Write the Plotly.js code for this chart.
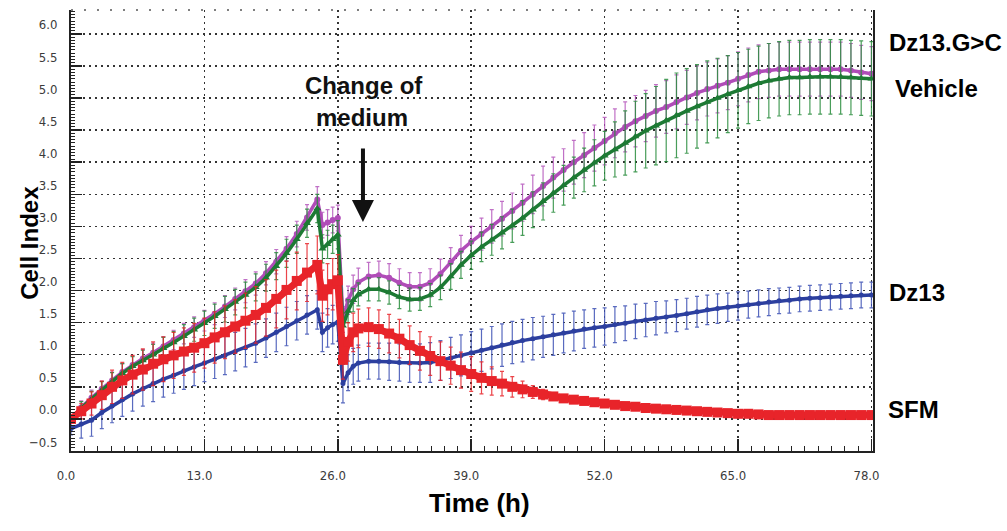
<!DOCTYPE html>
<html>
<head>
<meta charset="utf-8">
<script src="https://cdn.plot.ly/plotly-3.0.1.min.js"></script>
<style>html,body{margin:0;padding:0;background:#fff;}#chart{width:1007px;height:531px;}</style>
</head>
<body>
<div id="chart"></div>
<script>
// Time points (h)
const time = [
  0,1,2,3,4,5,6,7,8,9,
  10,11,12,13,14,15,16,17,18,19,
  20,21,22,23,24,24.5,25,25.5,26,26.5,
  27,27.5,28,29,30,31,32,33,34,35,
  36,37,38,39,40,41,42,43,44,45,
  46,47,48,49,50,51,52,53,54,55,
  56,57,58,59,60,61,62,63,64,65,
  66,67,68,69,70,71,72,73,74,75,
  76,77,78
];

// Cell index – Dz13.G>C (magenta)
const dz13gc = [
  0.00,0.18,0.33,0.47,0.60,0.73,0.84,0.94,1.03,1.13,
  1.23,1.33,1.43,1.53,1.64,1.75,1.87,1.99,2.11,2.27,
  2.45,2.65,2.88,3.14,3.42,3.02,3.06,3.10,3.13,1.55,
  1.85,2.02,2.13,2.22,2.24,2.20,2.12,2.06,2.06,2.12,
  2.26,2.44,2.62,2.76,2.88,3.00,3.12,3.24,3.37,3.50,
  3.63,3.76,3.88,4.00,4.11,4.22,4.33,4.45,4.55,4.64,
  4.72,4.80,4.86,4.94,5.01,5.08,5.14,5.19,5.24,5.30,
  5.36,5.41,5.43,5.45,5.45,5.45,5.45,5.45,5.45,5.45,
  5.43,5.40,5.38
];
const dz13gcErr = [
  0.05,0.10,0.12,0.12,0.13,0.13,0.14,0.14,0.15,0.15,
  0.15,0.16,0.16,0.16,0.17,0.17,0.17,0.18,0.18,0.18,
  0.19,0.19,0.20,0.20,0.20,0.20,0.20,0.20,0.20,0.20,
  0.22,0.22,0.22,0.22,0.22,0.22,0.22,0.22,0.22,0.22,
  0.23,0.23,0.24,0.24,0.25,0.26,0.27,0.28,0.29,0.30,
  0.31,0.32,0.33,0.34,0.35,0.36,0.37,0.38,0.39,0.40,
  0.40,0.41,0.41,0.42,0.42,0.42,0.42,0.42,0.42,0.42,
  0.42,0.42,0.42,0.42,0.42,0.42,0.42,0.42,0.42,0.42,
  0.42,0.42,0.42
];

// Cell index – Vehicle (green)
const vehicle = [
  0.00,0.17,0.31,0.45,0.58,0.71,0.82,0.91,1.00,1.10,
  1.19,1.29,1.39,1.49,1.60,1.71,1.82,1.93,2.05,2.20,
  2.38,2.58,2.80,3.05,3.28,2.65,2.72,2.80,2.87,1.45,
  1.68,1.85,1.94,2.02,2.02,1.97,1.90,1.86,1.87,1.93,
  2.05,2.22,2.40,2.55,2.68,2.79,2.90,3.01,3.13,3.26,
  3.39,3.52,3.64,3.76,3.88,3.99,4.10,4.20,4.30,4.40,
  4.49,4.57,4.65,4.73,4.80,4.87,4.94,5.00,5.06,5.12,
  5.18,5.23,5.27,5.30,5.32,5.32,5.33,5.33,5.33,5.33,
  5.32,5.31,5.30
];
const vehicleErr = [
  0.05,0.10,0.12,0.13,0.14,0.15,0.15,0.16,0.16,0.17,
  0.17,0.18,0.18,0.19,0.19,0.20,0.20,0.20,0.21,0.21,
  0.21,0.22,0.22,0.22,0.22,0.22,0.22,0.22,0.22,0.20,
  0.18,0.18,0.18,0.18,0.18,0.18,0.18,0.18,0.18,0.18,
  0.19,0.20,0.21,0.22,0.23,0.24,0.25,0.26,0.27,0.28,
  0.29,0.30,0.31,0.32,0.34,0.36,0.38,0.43,0.50,0.55,
  0.58,0.61,0.64,0.66,0.66,0.65,0.64,0.62,0.60,0.59,
  0.58,0.58,0.58,0.58,0.58,0.58,0.58,0.58,0.58,0.58,
  0.58,0.58,0.58
];

// Cell index – Dz13 (blue)
const dz13 = [
  -0.15,-0.08,-0.02,0.10,0.20,0.30,0.39,0.47,0.55,0.62,
  0.68,0.75,0.81,0.87,0.93,0.99,1.05,1.11,1.18,1.26,
  1.35,1.44,1.53,1.62,1.70,1.35,1.42,1.47,1.51,0.55,
  0.72,0.82,0.87,0.90,0.90,0.89,0.88,0.87,0.87,0.88,
  0.91,0.95,0.99,1.03,1.07,1.11,1.15,1.19,1.22,1.25,
  1.28,1.31,1.34,1.37,1.40,1.42,1.44,1.47,1.49,1.52,
  1.54,1.57,1.59,1.61,1.64,1.67,1.70,1.72,1.74,1.76,
  1.78,1.80,1.82,1.84,1.85,1.87,1.88,1.89,1.90,1.91,
  1.92,1.93,1.93
];
const dz13Err = [
  0.10,0.22,0.25,0.25,0.26,0.26,0.27,0.27,0.28,0.28,
  0.28,0.29,0.29,0.29,0.30,0.30,0.30,0.30,0.30,0.30,
  0.30,0.30,0.30,0.30,0.30,0.30,0.30,0.30,0.30,0.30,
  0.28,0.28,0.28,0.28,0.28,0.29,0.29,0.30,0.30,0.31,
  0.31,0.32,0.32,0.33,0.33,0.33,0.33,0.33,0.33,0.33,
  0.32,0.32,0.31,0.31,0.30,0.30,0.29,0.28,0.27,0.27,
  0.26,0.26,0.25,0.25,0.24,0.24,0.23,0.23,0.22,0.22,
  0.21,0.21,0.21,0.20,0.20,0.20,0.20,0.20,0.20,0.20,
  0.20,0.20,0.20
];

// Cell index – SFM (red)
const sfm = [
  0.00,0.12,0.24,0.37,0.50,0.60,0.69,0.77,0.86,0.93,
  0.99,1.05,1.11,1.18,1.27,1.35,1.44,1.53,1.62,1.73,
  1.87,2.01,2.15,2.28,2.40,1.92,2.02,2.10,2.16,0.92,
  1.20,1.35,1.41,1.43,1.40,1.33,1.25,1.15,1.06,0.98,
  0.90,0.83,0.76,0.70,0.64,0.59,0.55,0.50,0.46,0.42,
  0.38,0.35,0.32,0.30,0.28,0.26,0.24,0.22,0.20,0.19,
  0.17,0.16,0.15,0.14,0.13,0.12,0.11,0.10,0.09,0.08,
  0.08,0.07,0.06,0.06,0.06,0.06,0.06,0.06,0.06,0.06,
  0.06,0.06,0.06
];
const sfmErr = [
  0.05,0.12,0.18,0.22,0.26,0.28,0.30,0.32,0.34,0.35,
  0.36,0.37,0.38,0.39,0.40,0.41,0.42,0.43,0.44,0.44,
  0.45,0.45,0.45,0.45,0.45,0.40,0.40,0.40,0.40,0.30,
  0.30,0.30,0.30,0.30,0.30,0.30,0.30,0.30,0.30,0.30,
  0.30,0.29,0.28,0.27,0.25,0.22,0.19,0.16,0.13,0.10,
  0.08,0.06,0.05,0.04,0.04,0.03,0.03,0.03,0.03,0.03,
  0.03,0.03,0.03,0.03,0.03,0.03,0.03,0.03,0.03,0.03,
  0.03,0.03,0.03,0.03,0.03,0.03,0.03,0.03,0.03,0.03,
  0.03,0.03,0.03
];

const seriesNames = ['Dz13.G>C', 'Vehicle', 'Dz13', 'SFM'];
const xTickVals = [0, 13, 26, 39, 52, 65, 78];

const boldFont = 'Liberation Sans, Arial, Helvetica, sans-serif';
const narrowFont = 'Liberation Sans Narrow, Arial Narrow, DejaVu Sans Condensed, sans-serif';

function mk(name, y, err, color, errColor, symbol, msize, lw) {
  return {
    type: 'scatter', mode: 'lines+markers', name: name,
    x: time, y: y,
    line: {color: color, width: lw},
    marker: {color: color, symbol: symbol, size: msize},
    error_y: {type: 'data', array: err, visible: true, color: errColor, thickness: 1.2, width: 2}
  };
}

const traces = [
  mk(seriesNames[0], dz13gc, dz13gcErr, '#b04cb8', 'rgba(176,76,184,0.8)', 'circle', 6, 3.5),
  mk(seriesNames[1], vehicle, vehicleErr, '#1d7a34', 'rgba(40,140,60,0.85)', 'triangle-up', 7, 3.5),
  mk(seriesNames[2], dz13, dz13Err, '#2c3f9f', 'rgba(60,80,180,0.85)', 'circle', 5, 3.5),
  mk(seriesNames[3], sfm, sfmErr, '#e8242a', 'rgba(232,36,42,0.85)', 'square', 10, 7)
];

const titleFont = {family: boldFont, size: 24, color: '#000', weight: 700};

const layout = {
  width: 1007, height: 531,
  margin: {l: 71, r: 134, t: 10, b: 80},
  paper_bgcolor: '#fff', plot_bgcolor: '#fff',
  showlegend: false,
  xaxis: {
    range: [0, 78.15], tickmode: 'array', tickvals: xTickVals, tickformat: '.1f',
    ticks: 'inside', ticklen: 12, tickwidth: 1.5, tickcolor: '#222',
    minor: {dtick: 1.3, tick0: 0, ticks: 'inside', ticklen: 5, tickwidth: 1, tickcolor: '#222', showgrid: false},
    showgrid: true, gridcolor: '#333', griddash: '2px,4px', gridwidth: 1.5,
    showline: true, linecolor: '#222', linewidth: 2, zeroline: false,
    tickfont: {family: narrowFont, size: 13, color: '#3b3b3b'},
    ticklabelshift: -5, ticklabelstandoff: 11,
    automargin: false,
    title: {text: ''}
  },
  yaxis: {
    range: [-0.5, 6.372], tickmode: 'linear', tick0: 0, dtick: 0.5, tickformat: '.1f',
    ticks: 'inside', ticklen: 11, tickwidth: 1.5, tickcolor: '#222',
    minor: {dtick: 0.05, tick0: 0, ticks: 'inside', ticklen: 4, tickwidth: 1, tickcolor: '#222', showgrid: false},
    showgrid: true, gridcolor: '#333', griddash: '2px,4px', gridwidth: 1.5,
    showline: true, linecolor: '#222', linewidth: 2, mirror: true, zeroline: false,
    tickfont: {family: narrowFont, size: 13, color: '#3b3b3b'},
    ticklabelshift: -9, ticklabelstandoff: 9,
    automargin: false,
    title: {text: ''}
  },
  shapes: [
    {type: 'line', xref: 'paper', yref: 'paper', x0: 0, x1: 1, y0: 1, y1: 1,
     line: {color: '#555', width: 1.5, dash: '2px,11px'}}
  ],
  annotations: [
    {x: -0.0511, y: 0.472, xref: 'paper', yref: 'paper', xanchor: 'center', yanchor: 'middle',
     textangle: -90, text: 'Cell Index', showarrow: false, font: titleFont},
    {x: 0.509, y: -0.118, xref: 'paper', yref: 'paper', xanchor: 'center', yanchor: 'middle',
     text: 'Time (h)', showarrow: false, font: {family: boldFont, size: 26, color: '#000', weight: 700}},
    {x: 28.55, y: 5.20, xref: 'x', yref: 'y', xanchor: 'center', yanchor: 'middle', text: 'Change of', showarrow: false,
     font: {family: boldFont, size: 24, color: '#111', weight: 700}},
    {x: 28.36, y: 4.69, xref: 'x', yref: 'y', xanchor: 'center', yanchor: 'middle', text: 'medium', showarrow: false,
     font: {family: boldFont, size: 24, color: '#111', weight: 700}},
    {x: 28.45, y: 3.07, xref: 'x', yref: 'y', text: '', showarrow: true,
     ax: 0, ay: -75, arrowhead: 2, arrowsize: 1.1, arrowwidth: 4, arrowcolor: '#111'},
    {x: 1.0175, y: 0.927, xref: 'paper', yref: 'paper', xanchor: 'left', yanchor: 'middle', text: seriesNames[0], showarrow: false, font: titleFont},
    {x: 1.025, y: 0.823, xref: 'paper', yref: 'paper', xanchor: 'left', yanchor: 'middle', text: seriesNames[1], showarrow: false, font: titleFont},
    {x: 1.0175, y: 0.3605, xref: 'paper', yref: 'paper', xanchor: 'left', yanchor: 'middle', text: seriesNames[2], showarrow: false, font: titleFont},
    {x: 1.016, y: 0.093, xref: 'paper', yref: 'paper', xanchor: 'left', yanchor: 'middle', text: seriesNames[3], showarrow: false, font: titleFont}
  ]
};

Plotly.newPlot('chart', traces, layout, {displayModeBar: false, staticPlot: true});
</script>
</body>
</html>
